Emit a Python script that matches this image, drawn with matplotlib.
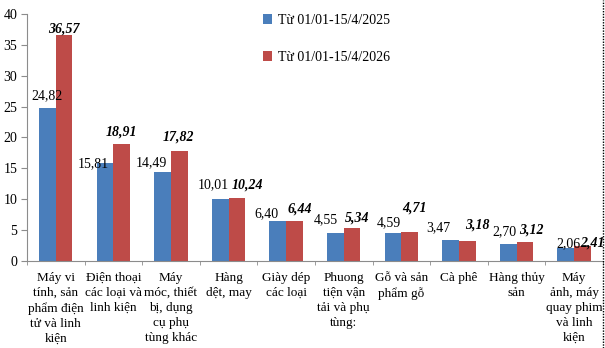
import matplotlib

matplotlib.use("Agg")
import matplotlib.pyplot as plt
from matplotlib.lines import Line2D
import numpy as np

categories = [
    "Máy vi\ntính, sản\nphẩm điện\ntử và linh\nkiện",
    "Điện thoại\ncác loại và\nlinh kiện",
    "Máy\nmóc, thiết\nbị, dụng\ncụ phụ\ntùng khác",
    "Hàng\ndệt, may",
    "Giày dép\ncác loại",
    "Phuong\ntiện vận\ntải và phụ\ntùng:",
    "Gỗ và sản\nphẩm gỗ",
    "Cà phê",
    "Hàng thủy\nsản",
    "Máy\nảnh, máy\nquay phim\nvà linh\nkiện",
]
vals_2025 = [24.82, 15.81, 14.49, 10.01, 6.40, 4.55, 4.59, 3.47, 2.70, 2.06]
vals_2026 = [36.57, 18.91, 17.82, 10.24, 6.44, 5.34, 4.71, 3.18, 3.12, 2.41]
series_names = ["Từ 01/01-15/4/2025", "Từ 01/01-15/4/2026"]

# label offsets in pixels (dx, dy from bar top centre), as placed in the original
off_2025 = [(0, 12), (-12, 0), (-11, 9), (-7, 14), (-11, 8), (-10, 13), (-4, 10), (-12, 12), (-4, 13), (3, 5)]
off_2026 = [(0, 6), (0, 12), (-1, 14), (11, 13), (5, 12), (5, 10), (5, 24), (10, 16), (6, 12), (10, 3)]

plt.rcParams["font.family"] = ["Liberation Serif", "DejaVu Serif"]
blue = "#4a7ebb"
red = "#be4b48"
axis_col = "#8c8c8c"

fig = plt.figure(figsize=(6.05, 3.48), dpi=100)
ax = fig.add_axes([0.0446, 0.25, 0.952, 0.7098])

x = np.arange(len(categories))
w = 0.29
b1 = ax.bar(x - w / 2, vals_2025, w, color=blue, label=series_names[0])
b2 = ax.bar(x + w / 2, vals_2026, w, color=red, label=series_names[1])

for rect, v, (dx, dy) in zip(b1, vals_2025, off_2025):
    ax.annotate(f"{v:.2f}".replace(".", ","),
                (rect.get_x() + rect.get_width() / 2, rect.get_height()),
                xytext=(dx * 0.72, dy * 0.72), textcoords="offset points",
                ha="center", va="center", fontsize=10)
for rect, v, (dx, dy) in zip(b2, vals_2026, off_2026):
    ax.annotate(f"{v:.2f}".replace(".", ","),
                (rect.get_x() + rect.get_width() / 2, rect.get_height()),
                xytext=(dx * 0.72, dy * 0.72), textcoords="offset points",
                ha="center", va="center", fontsize=10,
                fontweight="bold", fontstyle="italic")

ax.set_xlim(-0.5, len(categories) - 0.5)
ax.set_ylim(0, 40)
ax.set_yticks(range(0, 41, 5))
ax.set_xticks(x)
ax.set_xticklabels(categories, fontsize=9.5, linespacing=1.32, va="top")
ax.set_xticks(np.arange(-0.5, len(categories), 1), minor=True)
ax.tick_params(axis="x", which="major", length=0, pad=8)
ax.tick_params(axis="x", which="minor", length=3, color=axis_col, direction="out")
ax.tick_params(axis="y", length=4, color=axis_col, labelsize=10, pad=3)

for s in ["top", "right"]:
    ax.spines[s].set_visible(False)
ax.spines["left"].set_color(axis_col)
ax.spines["bottom"].set_color(axis_col)
ax.spines["bottom"].set_linestyle((0, (1, 1)))

fig.legend(loc="upper left", bbox_to_anchor=(250 / 605, 1 - 1 / 348),
           frameon=False, fontsize=10, handlelength=0.7, handleheight=0.7,
           handletextpad=0.4, labelspacing=1.75)

fig.add_artist(Line2D([0.9965, 0.9965], [0, 1], transform=fig.transFigure,
                      color="black", lw=1, linestyle=(0, (1, 1))))

fig.savefig("out.png", dpi=100)
